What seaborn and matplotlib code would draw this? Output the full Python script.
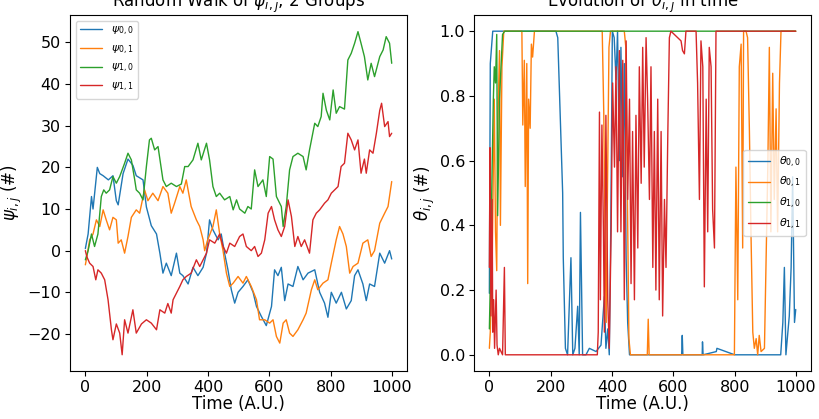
import matplotlib
matplotlib.use("Agg")
import matplotlib.pyplot as plt
import seaborn as sns
import pandas as pd

# ---------------- data ----------------
psi00 = [(0,0.5),(9,4),(20,13),(25,10),(39,20),(47,18.5),(58,18),(75,17),(90,18),(101,12),(107,11),(123,18.5),
         (139,22),(155,20.5),(166,18),(188,17),(199,10.5),(215,6),(232,4),(243,-0.6),(253,-5.4),(264,-3),(280,-6),
         (297,-0.6),(308,-5.4),(318,-6),(335,-8),(351,-4),(367,-6),(384,-4),(395,-0.6),(405,7.4),(416,5),(433,2.6),
         (443,4),(454,-0.6),(465,-4.6),(476,-9.4),(487,-12.6),(498,-10),(514,-8.6),(530,-7),(547,-10),(558,-13.4),
         (574,-15.8),(590,-18),(607,-13.4),(617,-4.6),(628,-6),(639,-4),(650,-12),(661,-8),(677,-8.6),(693,-3.8),
         (710,-7),(726,-5.4),(748,-4.6),(764,-10),(780,-12.6),(791,-16),(802,-10),(818,-12.6),(835,-10),(851,-14),
         (867,-12),(878,-6),(889,-4.6),(905,-8),(916,-12),(927,-8),(943,-8.6),(960,-0.6),(976,-3),(992,0),(999,-2)]
psi01 = [(0,-3.4),(5,-1.5),(14,2.6),(25,4),(36,7.4),(47,5.8),(58,9.8),(68,7.4),(79,5),(90,8),(101,7.4),(107,1.8),
         (117,2.6),(128,-0.6),(139,3.4),(150,8),(166,9.8),(177,9),(193,14.6),(204,12),(220,13.8),(237,12),(253,15.4),
         (269,13.8),(280,9),(291,11.4),(308,15.4),(318,13.8),(329,17),(345,10.6),(362,7.4),(373,5.8),(384,2.6),(389,0),
         (399,2.6),(416,5.8),(427,9.8),(438,4),(449,0),(460,-5.4),(471,-8.6),(482,-7.8),(498,-6.2),(514,-7.8),
         (525,-6.2),(541,-8.6),(558,-11.8),(568,-16.6),(585,-16.6),(601,-17.4),(612,-16.6),(623,-20.6),(634,-22.2),
         (645,-17.4),(655,-16.6),(666,-19.8),(677,-20.6),(693,-19),(710,-16.6),(720,-15),(737,-9.4),(748,-7),
         (758,-9.4),(775,-7.8),(791,-7),(802,-3),(818,2.6),(829,5.8),(840,4),(851,1),(862,-5.4),(873,-3.8),(889,-3),
         (905,1.8),(921,2.6),(932,-1.4),(943,0),(960,6.6),(976,9),(987,10.6),(999,16.6)]
psi10 = [(0,-2.2),(9,0),(20,4),(30,1),(41,4),(52,13),(60,14.6),(68,13.8),(79,14.6),(90,17.8),(101,16.2),(112,17.8),
         (128,21),(139,23.4),(150,21.8),(161,17),(166,14.6),(177,13.8),(188,12.2),(199,20.2),(209,26.6),(215,27),
         (226,24.2),(237,25),(253,17),(264,15.4),(280,16.2),(297,15.4),(313,16),(324,20.2),(335,20.2),(351,21.8),
         (367,25.8),(378,21.8),(395,25.8),(405,21.8),(416,15.4),(427,13),(438,13.8),(454,12.2),(471,13),(482,9.8),
         (493,12.2),(503,10),(520,9),(530,10.6),(541,10),(552,19.4),(563,15.4),(579,17),(590,13),(601,22.6),(612,22),
         (623,13),(639,10.6),(645,5.8),(655,10.6),(666,19.4),(677,22.6),(693,23.4),(710,22.6),(720,19.4),(731,24.2),
         (748,30.6),(758,29.8),(769,32.2),(775,37.8),(786,33.7),(797,31.4),(808,38.6),(818,33),(829,34.6),(845,34),
         (856,45.8),(867,47.4),(878,49.8),(889,52.6),(899,49.8),(910,46.6),(921,41),(932,45),(943,41.8),(960,46.6),
         (971,48.2),(981,51.4),(992,49.8),(999,45)]
psi11 = [(0,0),(5,-1.5),(14,-3),(25,-3.8),(34,-7),(41,-4.6),(52,-5.4),(63,-7),(74,-11.8),(85,-19),(90,-21.4),
         (101,-17.6),(112,-19.8),(120,-25),(128,-16.6),(139,-19.8),(155,-14.2),(166,-19.8),(183,-17.6),(199,-16.6),
         (215,-17.4),(232,-19),(243,-14.2),(259,-15),(269,-12.7),(280,-15),(286,-11.8),(297,-10.2),(308,-8.6),
         (318,-7),(329,-6.2),(345,-5.4),(362,-2.2),(373,-3.8),(384,-2.2),(395,-0.6),(405,2.6),(422,1.8),(438,4),
         (449,1),(460,-0.6),(471,1.8),(487,1),(503,3.4),(514,4),(525,1),(541,0),(552,1),(563,-1.4),(574,-0.6),
         (585,2.6),(596,9),(607,10.6),(617,7.4),(628,5),(639,3.4),(650,5.8),(661,12.2),(672,8.2),(683,1),(693,3.4),
         (704,1),(715,2.6),(731,-0.6),(742,7.4),(753,9),(764,9.8),(780,11.4),(791,12.2),(802,13.8),(813,14.6),
         (824,15.4),(834,20.2),(845,21),(856,28.2),(867,26.6),(878,24.2),(889,26.6),(899,18.6),(910,22),(916,18.6),
         (927,24.2),(938,23.4),(949,28.2),(960,33.7),(966,35.4),(976,29.8),(987,31),(992,27.4),(999,28.2)]

theta00 = [(0,0.19),(3,0.9),(11,1.0),(217,1.0),(223,0.98),(234,0.65),(239,0.5),(241,0.3),(248,0.02),(255,0.0),
           (266,0.3),(272,0.0),(279,0.02),(288,0.15),(293,0.0),(297,0.44),(304,0.0),(315,0.0),(326,0.02),(348,0.01),
           (364,0.03),(375,0.18),(380,0.02),(386,0.08),(391,0.0),(396,0.4),(401,1.0),(407,0.98),(413,0.85),(418,1.0),
           (424,0.6),(429,0.95),(435,0.55),(440,0.9),(446,0.3),(451,0.1),(457,0.0),(627,0.0),(629,0.06),(631,0.0),
           (694,0.0),(695,0.04),(697,0.0),(740,0.01),(742,0.02),(800,0.0),(950,0.0),(957,0.1),(962,0.27),(967,0.0),
           (978,0.12),(984,0.27),(989,0.55),(995,0.1),(999,0.14)]
theta01 = [(0,0.02),(3,0.07),(9,0.27),(13,0.58),(16,0.79),(20,0.38),(24,0.26),(27,0.69),(33,0.94),(36,0.4),
           (41,0.89),(47,1.0),(106,1.0),(109,0.71),(114,0.91),(117,0.52),(122,0.9),(125,0.22),(128,0.79),(133,0.7),
           (137,0.96),(141,0.92),(147,1.0),(368,1.0),(373,0.75),(378,0.3),(381,0.1),(385,0.5),(390,0.95),(395,1.0),
           (440,1.0),(445,0.95),(450,0.5),(455,0.05),(460,0.0),(515,0.0),(518,0.11),(521,0.0),(799,0.0),(804,0.58),
           (810,0.17),(815,0.89),(821,0.96),(826,0.33),(829,1.0),(837,1.0),(842,0.98),(848,0.69),(853,0.38),
           (859,0.07),(864,0.02),(870,0.05),(875,0.0),(880,0.06),(886,0.01),(897,0.02),(908,0.58),(913,0.95),
           (918,0.38),(924,0.87),(929,0.48),(935,0.76),(940,0.38),(946,0.84),(951,1.0),(999,1.0)]
theta10 = [(0,0.08),(3,0.22),(9,0.58),(13,0.79),(16,0.89),(20,0.84),(24,0.99),(27,0.43),(33,0.79),(38,0.89),
           (43,0.99),(50,1.0),(999,1.0)]
theta11 = [(0,0.27),(2,0.64),(5,0.12),(9,0.48),(11,0.07),(14,0.17),(17,0.02),(22,0.2),(25,0.03),(29,0.0),
           (33,0.02),(43,0.0),(49,0.27),(52,0.0),(60,0.0),(352,0.0),(355,0.07),(359,0.75),(362,0.17),(367,0.71),
           (372,0.38),(375,0.07),(380,0.74),(386,0.17),(391,0.02),(397,0.38),(402,0.84),(408,0.58),(413,0.89),
           (418,0.38),(424,0.94),(429,0.38),(435,0.91),(440,0.17),(446,0.97),(451,0.48),(457,0.79),(462,0.22),
           (467,0.69),(473,0.17),(478,0.74),(484,0.33),(489,0.89),(495,0.53),(500,0.95),(505,0.58),(511,0.98),
           (516,0.79),(522,0.48),(527,0.89),(533,0.27),(538,0.69),(543,0.2),(549,0.79),(554,0.17),(560,0.69),
           (565,0.12),(571,0.48),(576,0.27),(582,0.69),(587,0.98),(592,1.0),(625,0.97),(630,0.94),(636,0.93),
           (641,1.0),(674,1.0),(679,0.84),(685,0.48),(690,0.97),(696,0.89),(701,0.21),(707,0.79),(712,0.38),
           (717,0.95),(723,0.89),(728,0.45),(734,0.33),(739,1.0),(999,1.0)]

psi_labels = [r"$\psi_{0,0}$", r"$\psi_{0,1}$", r"$\psi_{1,0}$", r"$\psi_{1,1}$"]
theta_labels = [r"$\theta_{0,0}$", r"$\theta_{0,1}$", r"$\theta_{1,0}$", r"$\theta_{1,1}$"]
x_ticks = [0, 200, 400, 600, 800, 1000]

# ---------------- style ----------------
sns.set_style("ticks", {"axes.edgecolor": "black", "xtick.color": "black", "ytick.color": "black",
                        "text.color": "black", "axes.labelcolor": "black"})
plt.rcParams["font.family"] = ["DejaVu Sans"]
plt.rcParams["mathtext.fontset"] = "dejavusans"
colors = sns.color_palette("tab10", 4)

fig = plt.figure(figsize=(8.19, 4.19), dpi=100)
ax1 = fig.add_axes([0.0855, 0.1146, 0.4115, 0.8496])
ax2 = fig.add_axes([0.5788, 0.1146, 0.4115, 0.8496])

def to_df(pts):
    return pd.DataFrame(pts, columns=["t", "v"])

for pts, lab, c in zip([psi00, psi01, psi10, psi11], psi_labels, colors):
    sns.lineplot(data=to_df(pts), x="t", y="v", ax=ax1, label=lab, color=c, lw=1,
                 estimator=None, sort=False)
for pts, lab, c in zip([theta00, theta01, theta10, theta11], theta_labels, colors):
    sns.lineplot(data=to_df(pts), x="t", y="v", ax=ax2, label=lab, color=c, lw=1,
                 estimator=None, sort=False)

for ax in (ax1, ax2):
    ax.set_xlim(-50, 1049)
    ax.set_xticks(x_ticks)
    ax.tick_params(labelsize=11.5, direction="out", length=3.5, width=0.8, pad=3)
    ax.set_xlabel("Time (A.U.)", fontsize=12, labelpad=0)
    for s in ax.spines.values():
        s.set_linewidth(0.8)

ax1.set_ylim(-28.9, 56.6)
ax1.set_yticks([-20, -10, 0, 10, 20, 30, 40, 50])
ax1.set_ylabel(r"$\psi_{i,j}$ (#)", fontsize=12, labelpad=2)
ax1.set_title(r"Random Walk of $\psi_{i,j}$, 2 Groups", fontsize=12)
ax1.legend(loc="upper left", fontsize=8, handlelength=2.0)

ax2.set_ylim(-0.05, 1.05)
ax2.set_yticks([0.0, 0.2, 0.4, 0.6, 0.8, 1.0])
ax2.set_ylabel(r"$\theta_{i,j}$ (#)", fontsize=12, labelpad=2)
ax2.set_title(r"Evolution of $\theta_{i,j}$ in time", fontsize=12)
ax2.legend(loc="center right", fontsize=8, handlelength=2.0)

fig.savefig("out.png", dpi=100)
